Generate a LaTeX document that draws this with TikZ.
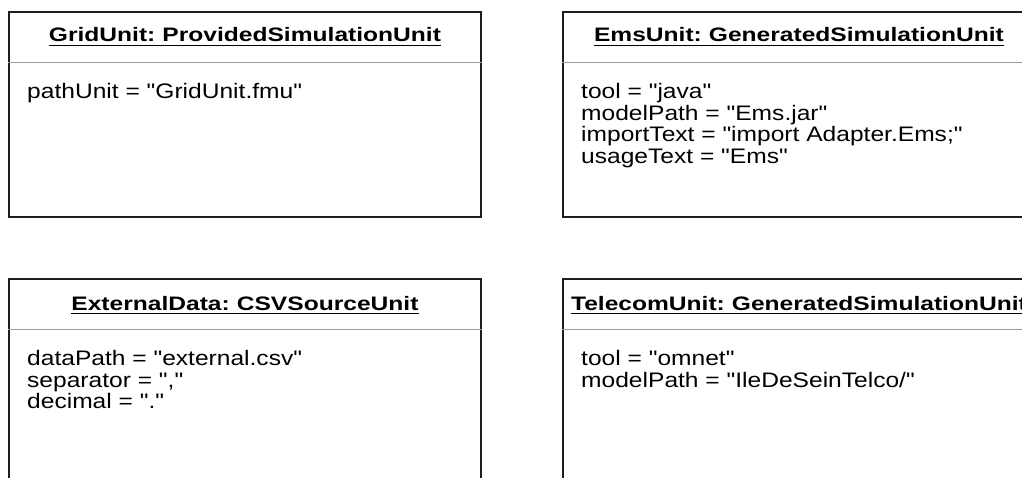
\documentclass[tikz,border=0pt]{standalone}
\usepackage{fontspec}
\setmainfont{Liberation Sans}
\newfontfamily\ttlfont{Liberation Sans}[FakeStretch=1.26, WordSpace=0.7]
\newfontfamily\bdyfont{Liberation Sans}[FakeStretch=1.17]
\definecolor{boxline}{HTML}{1E1E1E}
\definecolor{divgrey}{HTML}{9A9A9A}
\tikzset{
  objbox/.style={draw=boxline, line width=1.9pt, fill=white, minimum width=472pt, minimum height=205pt, inner sep=0pt, anchor=north west},
  divline/.style={draw=divgrey, line width=1.8pt},
  ttl/.style={anchor=base, inner sep=0pt, font=\ttlfont\bfseries\fontsize{19.5}{22}\selectfont, text=black},
  uline/.style={draw=black, line width=1.4pt},
  bdy/.style={anchor=base west, inner sep=0pt, font=\bdyfont\fontsize{21}{21.7}\selectfont, text=black}
}
\begin{document}
\begin{tikzpicture}[x=1pt,y=-1pt]
\useasboundingbox (0,0) rectangle (1022,478);
\clip (0,0) rectangle (1022,478);
\fill[white] (0,0) rectangle (1022,478);
% boxes
\node[objbox] (b1) at (8,11) {};
\node[objbox] (b2) at (562,11) {};
\node[objbox] (b3) at (8,278) {};
\node[objbox] (b4) at (562,278) {};
% dividers
\foreach \b in {b1,b2,b3,b4}{
  \draw[divline] ([yshift=-51.5pt]\b.north west) -- ([yshift=-51.5pt]\b.north east);
}
% titles
\node[ttl] (t1) at ([yshift=-31pt]b1.north) {GridUnit: ProvidedSimulationUnit};
\node[ttl] (t2) at ([yshift=-31pt]b2.north) {EmsUnit: GeneratedSimulationUnit};
\node[ttl] (t3) at ([yshift=-32pt]b3.north) {ExternalData: CSVSourceUnit};
\node[ttl] (t4) at ([yshift=-32pt]b4.north) {TelecomUnit: GeneratedSimulationUnit};
\foreach \t in {t1,t2,t3,t4}{
  \draw[uline] ([yshift=-3.5pt]\t.base west) -- ([yshift=-3.5pt]\t.base east);
}
% attributes
\node[bdy] (a11) at ([xshift=19pt,yshift=-88pt]b1.north west) {pathUnit = "GridUnit.fmu"};
\node[bdy] (a21) at ([xshift=19pt,yshift=-87.5pt]b2.north west) {tool = "java"};
\node[bdy] (a22) at ([yshift=-21.7pt]a21.base west) {modelPath = "Ems.jar"};
\node[bdy] (a23) at ([yshift=-21.7pt]a22.base west) {importText = "import Adapter.Ems;"};
\node[bdy] (a24) at ([yshift=-21.7pt]a23.base west) {usageText = "Ems"};
\node[bdy] (a31) at ([xshift=19pt,yshift=-87.5pt]b3.north west) {dataPath = "external.csv"};
\node[bdy] (a32) at ([yshift=-21.7pt]a31.base west) {separator = ","};
\node[bdy] (a33) at ([yshift=-21.7pt]a32.base west) {decimal = "."};
\node[bdy] (a41) at ([xshift=19pt,yshift=-87.5pt]b4.north west) {tool = "omnet"};
\node[bdy] (a42) at ([yshift=-21.7pt]a41.base west) {modelPath = "IleDeSeinTelco/"};
\end{tikzpicture}
\end{document}
